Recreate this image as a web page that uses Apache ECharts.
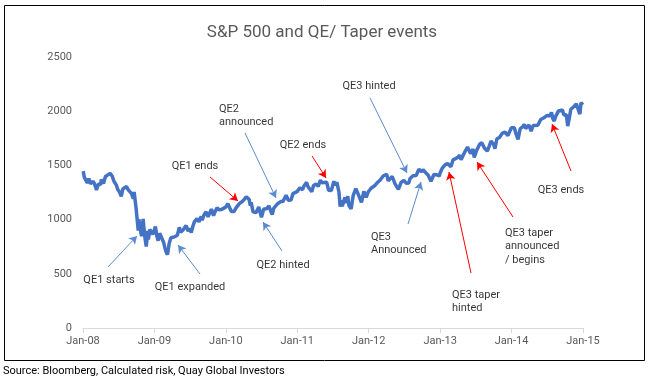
<!DOCTYPE html>
<html>
<head>
<meta charset="utf-8">
<script src="https://cdn.jsdelivr.net/npm/echarts@6/dist/echarts.min.js"></script>
<style>
html,body{margin:0;padding:0;background:#fff;}
#c{width:648px;height:391px;}
</style>
</head>
<body>
<div id="c"></div>
<script>
// ---- Data (approx. S&P 500 closes) ----
var dates = [
'2008-01-02','2008-01-08','2008-01-15','2008-01-23','2008-01-31','2008-02-08','2008-02-15','2008-02-22','2008-02-29','2008-03-07','2008-03-10','2008-03-14','2008-03-20','2008-03-31','2008-04-04','2008-04-15','2008-04-25','2008-05-02','2008-05-19','2008-05-30','2008-06-06','2008-06-13','2008-06-20','2008-06-27','2008-07-07','2008-07-15','2008-07-23','2008-07-31','2008-08-11','2008-08-20','2008-08-29','2008-09-05','2008-09-15','2008-09-19','2008-09-29','2008-10-03','2008-10-10','2008-10-13','2008-10-22','2008-10-27','2008-11-04','2008-11-12','2008-11-20','2008-11-28','2008-12-01','2008-12-08','2008-12-16','2008-12-23','2008-12-31',
'2009-01-06','2009-01-14','2009-01-20','2009-01-28','2009-02-06','2009-02-17','2009-02-23','2009-03-02','2009-03-09','2009-03-17','2009-03-26','2009-04-03','2009-04-14','2009-04-20','2009-04-28','2009-05-08','2009-05-15','2009-05-28','2009-06-12','2009-06-22','2009-06-30','2009-07-08','2009-07-17','2009-07-24','2009-07-31','2009-08-07','2009-08-17','2009-08-28','2009-09-02','2009-09-11','2009-09-22','2009-10-02','2009-10-19','2009-10-30','2009-11-06','2009-11-17','2009-11-27','2009-12-08','2009-12-18','2009-12-31',
'2010-01-11','2010-01-19','2010-01-29','2010-02-05','2010-02-12','2010-02-22','2010-03-01','2010-03-12','2010-03-26','2010-04-05','2010-04-15','2010-04-23','2010-04-30','2010-05-06','2010-05-10','2010-05-20','2010-05-25','2010-06-04','2010-06-18','2010-06-29','2010-07-02','2010-07-13','2010-07-20','2010-07-30','2010-08-09','2010-08-20','2010-08-26','2010-09-03','2010-09-13','2010-09-24','2010-10-08','2010-10-19','2010-10-29','2010-11-05','2010-11-16','2010-11-30','2010-12-10','2010-12-31',
'2011-01-14','2011-01-28','2011-02-04','2011-02-18','2011-02-24','2011-03-04','2011-03-16','2011-03-25','2011-04-08','2011-04-18','2011-04-29','2011-05-06','2011-05-16','2011-05-31','2011-06-10','2011-06-15','2011-06-24','2011-07-07','2011-07-15','2011-07-22','2011-08-02','2011-08-08','2011-08-12','2011-08-19','2011-09-01','2011-09-09','2011-09-16','2011-09-22','2011-10-03','2011-10-14','2011-10-27','2011-11-04','2011-11-14','2011-11-25','2011-12-07','2011-12-19','2011-12-30',
'2012-01-13','2012-01-31','2012-02-15','2012-02-29','2012-03-15','2012-04-02','2012-04-10','2012-04-20','2012-04-30','2012-05-15','2012-05-25','2012-06-01','2012-06-15','2012-06-29','2012-07-12','2012-07-24','2012-07-31','2012-08-15','2012-08-31','2012-09-14','2012-09-28','2012-10-05','2012-10-19','2012-10-31','2012-11-15','2012-11-30','2012-12-14','2012-12-28','2012-12-31',
'2013-01-11','2013-01-25','2013-02-08','2013-02-25','2013-03-08','2013-03-28','2013-04-05','2013-04-11','2013-04-18','2013-04-30','2013-05-10','2013-05-21','2013-05-31','2013-06-05','2013-06-18','2013-06-24','2013-07-05','2013-07-22','2013-08-02','2013-08-15','2013-08-30','2013-09-10','2013-09-18','2013-10-01','2013-10-08','2013-10-18','2013-10-31','2013-11-15','2013-11-29','2013-12-06','2013-12-13','2013-12-31',
'2014-01-15','2014-01-24','2014-02-03','2014-02-14','2014-02-28','2014-03-07','2014-03-14','2014-03-31','2014-04-04','2014-04-11','2014-04-21','2014-04-30','2014-05-15','2014-05-30','2014-06-13','2014-06-30','2014-07-17','2014-07-24','2014-07-31','2014-08-07','2014-08-15','2014-08-29','2014-09-18','2014-09-25','2014-10-08','2014-10-15','2014-10-22','2014-10-31','2014-11-14','2014-11-28','2014-12-05','2014-12-16','2014-12-22','2014-12-29','2014-12-31'
];
var spx = [
1447,1390,1380,1338,1378,1331,1349,1353,1330,1293,1273,1288,1329,1322,1370,1334,1397,1413,1426,1400,1360,1360,1317,1278,1252,1214,1282,1267,1305,1274,1283,1242,1193,1255,1106,1099,899,1003,896,848,1006,853,752,896,816,909,913,863,903,
935,843,805,874,869,789,743,700,677,778,832,843,841,832,855,929,883,906,946,893,919,880,941,979,987,1010,979,1029,994,1043,1072,1025,1097,1036,1069,1110,1091,1092,1102,1115,
1146,1150,1074,1066,1075,1108,1115,1150,1167,1187,1211,1217,1187,1128,1160,1071,1074,1064,1117,1041,1022,1095,1083,1102,1128,1071,1047,1105,1122,1149,1166,1166,1183,1225,1178,1180,1240,1258,
1293,1276,1310,1343,1306,1321,1257,1314,1329,1305,1364,1340,1329,1345,1271,1265,1268,1353,1316,1345,1254,1119,1179,1123,1204,1154,1216,1129,1099,1224,1285,1253,1251,1159,1260,1205,1257,
1289,1312,1343,1366,1402,1419,1358,1378,1398,1330,1318,1278,1343,1362,1335,1338,1379,1405,1406,1465,1441,1461,1433,1412,1353,1416,1414,1402,1426,
1472,1503,1518,1488,1551,1569,1553,1593,1552,1598,1634,1669,1631,1609,1651,1573,1632,1696,1710,1661,1633,1683,1725,1695,1655,1745,1757,1798,1806,1805,1775,1848,
1848,1790,1741,1838,1859,1878,1841,1872,1865,1815,1868,1884,1870,1924,1937,1960,1958,1988,1931,1909,1955,2003,2011,1966,1968,1862,1927,2018,2039,2068,2075,1973,2078,2091,2059
];
var yTicks = [0, 500, 1000, 1500, 2000, 2500];
var xYears = [2008, 2009, 2010, 2011, 2012, 2013, 2014, 2015];

// Annotation texts, and arrows (from -> to) in data units (fractional year, index value)
var noteTexts = ['QE1 starts','QE1 expanded','QE1 ends','QE2 hinted','QE2\nannounced','QE2 ends','QE3 hinted','QE3\nAnnounced','QE3 taper\nhinted','QE3 taper\nannounced\n/ begins','QE3 ends'];
var noteAt = [[2008.364,443],[2009.498,378],[2009.568,1494],[2010.80,581],[2009.904,1956],[2011.08,1688],[2012.004,2232],[2012.032,775],[2013.166,244],[2013.908,752],[2014.692,1273]];
var noteLeft = [false,false,false,false,true,false,false,true,true,true,false];
var arrowFrom = [[2008.35,563],[2009.638,498],[2009.778,1393],[2010.786,710],[2010.268,1799],[2011.206,1587],[2012.018,2122],[2012.55,959],[2013.432,507],[2014.02,1024],[2014.832,1448]];
var arrowTo = [[2008.756,849],[2009.33,766],[2010.17,1172],[2010.52,978],[2010.702,1199],[2011.402,1384],[2012.536,1430],[2012.732,1347],[2013.124,1439],[2013.516,1531],[2014.566,1882]];
var arrowRed = [false,false,true,false,false,true,false,false,true,true,true];

function toYear(s){
  var p = s.split('-'); var y = +p[0];
  var t = Date.UTC(y, +p[1]-1, +p[2]);
  var a = Date.UTC(y,0,1), b = Date.UTC(y+1,0,1);
  return y + (t-a)/(b-a);
}
var lineData = dates.map(function(d,i){ return [toYear(d), spx[i]]; });

var blueLines = [], redLines = [];
arrowFrom.forEach(function(f,i){
  var seg = [{coord:f},{coord:arrowTo[i]}];
  (arrowRed[i] ? redLines : blueLines).push(seg);
});
var labelData = noteTexts.map(function(t,i){
  return {value: noteAt[i], name: t,
    label: {show:true, position:'inside', formatter: t,
      align: noteLeft[i] ? 'left' : 'center', verticalAlign:'middle'}};
});

var FONT = 'Roboto';
var chart = echarts.init(document.getElementById('c'), null, {renderer:'canvas'});
chart.setOption({
  animation: false,
  backgroundColor: '#ffffff',
  title: {
    text: 'S&P 500 and QE/ Taper events',
    left: 317, top: 19, textAlign: 'center',
    textStyle: {fontFamily: FONT, fontSize: 17, fontWeight: 'normal', color: '#595959'}
  },
  grid: {left: 83, right: 65, top: 57, bottom: 63, containLabel: false},
  xAxis: {
    type: 'value', min: xYears[0], max: xYears[xYears.length-1], interval: 1,
    axisLine: {show: true, lineStyle: {color: '#d9d9d9', width: 1}},
    axisTick: {show: true, length: 5, lineStyle: {color: '#d9d9d9'}},
    splitLine: {show: false},
    axisLabel: {margin: 8, color: '#595959', fontFamily: FONT, fontSize: 11,
      formatter: function(v){ return 'Jan-' + String(v).slice(2); }}
  },
  yAxis: {
    type: 'value', min: yTicks[0], max: yTicks[yTicks.length-1], interval: 500,
    axisLine: {show: false}, axisTick: {show: false}, splitLine: {show: false},
    axisLabel: {margin: 11, color: '#595959', fontFamily: FONT, fontSize: 11,
      formatter: function(v){ return String(v); }}
  },
  series: [
    {
      type: 'line', data: lineData, showSymbol: false, symbol: 'none',
      lineStyle: {color: '#4472c4', width: 3.5}, z: 3
    },
    {
      type: 'line', data: [], silent: true,
      markLine: {silent: true, symbol: ['none','arrow'], symbolSize: [7,8], animation:false,
        lineStyle: {color: '#5b8bd0', width: 1, type: 'solid'},
        label: {show: false}, data: blueLines}
    },
    {
      type: 'line', data: [], silent: true,
      markLine: {silent: true, symbol: ['none','arrow'], symbolSize: [7,8], animation:false,
        lineStyle: {color: '#ff0000', width: 1, type: 'solid'},
        label: {show: false}, data: redLines}
    },
    {
      type: 'scatter', data: labelData, symbolSize: 1, silent: true,
      itemStyle: {color: 'rgba(0,0,0,0)'},
      label: {show: true, color: '#000000', fontFamily: FONT, fontSize: 11, lineHeight: 13.5},
      z: 5
    }
  ],
  graphic: [
    {type: 'rect', left: 2, top: 3, silent: true,
      shape: {x: 0, y: 0, width: 640, height: 355},
      style: {fill: 'none', stroke: '#000000', lineWidth: 1}, z: -1},
    {type: 'text', left: 3, top: 366, silent: true,
      style: {text: 'Source: Bloomberg, Calculated risk, Quay Global Investors',
        fontFamily: FONT, fontSize: 11, fill: '#000000'}}
  ]
});
</script>
</body>
</html>
